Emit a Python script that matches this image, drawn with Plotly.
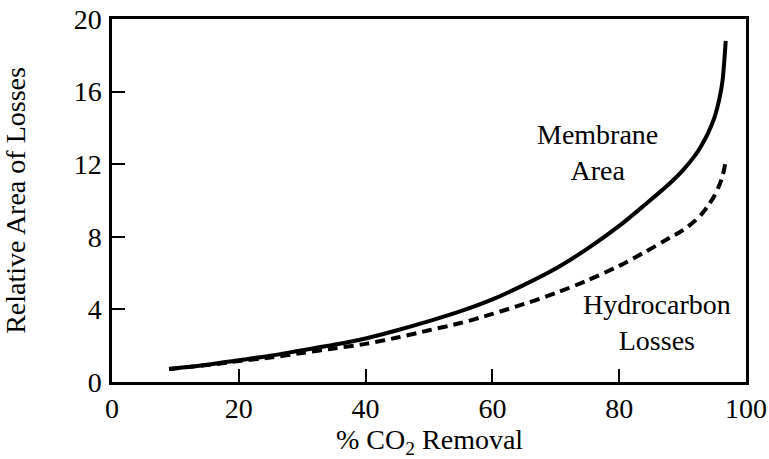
import plotly.graph_objects as go

# Data
co2_removal = [9, 15, 20, 25, 30, 35, 40, 45, 50, 55, 60, 65, 70, 75, 80, 84, 88, 90, 92, 93, 94, 95, 95.8, 96.3, 96.6, 96.8]
membrane_area = [0.72, 0.95, 1.2, 1.45, 1.75, 2.05, 2.4, 2.85, 3.35, 3.9, 4.55, 5.35, 6.25, 7.35, 8.6, 9.75, 10.95, 11.65, 12.5, 13.05, 13.7, 14.55, 15.6, 16.6, 17.8, 18.8]
hydrocarbon_losses = [0.72, 0.93, 1.15, 1.35, 1.6, 1.85, 2.1, 2.45, 2.85, 3.25, 3.75, 4.3, 4.9, 5.6, 6.4, 7.15, 7.95, 8.35, 8.9, 9.25, 9.7, 10.25, 10.85, 11.35, 11.8, 12.2]

x_ticks = [0, 20, 40, 60, 80, 100]
y_ticks = [0, 4, 8, 12, 16, 20]

FONT = "Liberation Serif"
FS = 28

fig = go.Figure()
fig.add_trace(go.Scatter(x=co2_removal, y=membrane_area, mode="lines",
                         line=dict(color="black", width=4, shape="spline", smoothing=0.8),
                         showlegend=False))
fig.add_trace(go.Scatter(x=co2_removal, y=hydrocarbon_losses, mode="lines",
                         line=dict(color="black", width=4, dash="10px,6px", shape="spline", smoothing=0.8),
                         showlegend=False))

fig.add_annotation(x=76.5, y=12.65, text="Membrane<br>Area", showarrow=False,
                   font=dict(family=FONT, size=FS, color="black"), align="center")
fig.add_annotation(x=86, y=3.3, text="Hydrocarbon<br>Losses", showarrow=False,
                   font=dict(family=FONT, size=FS, color="black"), align="center")
# x-axis title
fig.add_annotation(xref="paper", yref="paper", x=0.5, y=-0.163, yanchor="middle",
                   text="% CO<sub>2</sub> Removal", showarrow=False,
                   font=dict(family=FONT, size=FS, color="black"))

fig.update_layout(
    width=769, height=459,
    margin=dict(l=112, r=23, t=19, b=77),
    paper_bgcolor="white", plot_bgcolor="white",
    font=dict(family=FONT, size=FS, color="black"),
    xaxis=dict(range=[0, 100], tickvals=x_ticks, ticks="inside", ticklen=13, tickwidth=1.5,
               tickcolor="black", showline=True, linecolor="black", linewidth=2.5, mirror=True,
               showgrid=False, zeroline=False, ticklabelstandoff=0, automargin=False,
               ticklabeloverflow="allow",
               tickfont=dict(family=FONT, size=FS)),
    yaxis=dict(range=[0, 20], tickvals=y_ticks, ticks="inside", ticklen=13, tickwidth=1.5,
               tickcolor="black", showline=True, linecolor="black", linewidth=2.5, mirror=True,
               showgrid=False, zeroline=False, ticklabelstandoff=2, automargin=False,
               ticklabeloverflow="allow",
               tickfont=dict(family=FONT, size=FS),
               title=dict(text="Relative Area of Losses", standoff=42,
                          font=dict(family=FONT, size=FS))),
)

fig.write_html("out.html", config={"displayModeBar": False},
               post_script="document.body.style.margin='0';document.body.style.overflow='hidden';")
